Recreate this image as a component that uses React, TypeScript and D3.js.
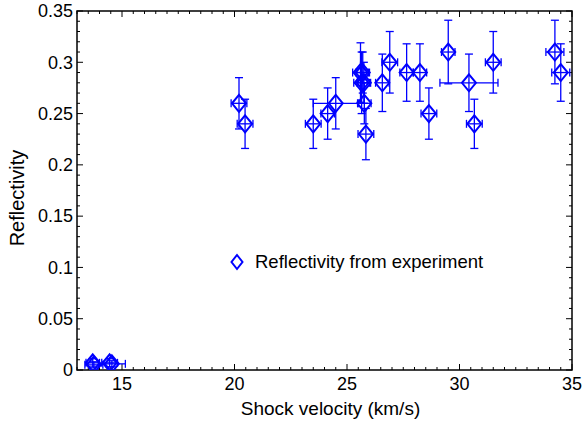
import React from "react";
import * as d3 from "d3";

const velocity = [13.7, 13.75, 14.45, 14.55, 20.2, 20.47, 23.5, 24.14, 24.5, 25.6, 25.7, 25.65, 25.75, 25.77, 25.84, 26.57, 26.9, 27.65, 28.24, 28.64, 29.5, 30.42, 30.66, 31.5, 34.24, 34.5];
const reflectivity = [0.007, 0.005, 0.007, 0.006, 0.26, 0.24, 0.24, 0.25, 0.26, 0.29, 0.29, 0.28, 0.28, 0.26, 0.23, 0.28, 0.3, 0.29, 0.29, 0.25, 0.31, 0.28, 0.24, 0.3, 0.31, 0.29];
const velocityErr = [0.3, 0.4, 0.35, 0.6, 0.35, 0.35, 0.35, 0.3, 1.0, 0.35, 0.3, 0.35, 0.3, 0.3, 0.35, 0.3, 0.35, 0.3, 0.3, 0.35, 0.3, 1.29, 0.35, 0.35, 0.4, 0.4];
const reflectivityErr = [0.004, 0.003, 0.004, 0.003, 0.025, 0.024, 0.024, 0.025, 0.025, 0.029, 0.02, 0.03, 0.02, 0.02, 0.025, 0.028, 0.03, 0.028, 0.028, 0.025, 0.031, 0.028, 0.024, 0.03, 0.031, 0.028];

const xTicks = [15, 20, 25, 30, 35];
const yTicks = [0, 0.05, 0.1, 0.15, 0.2, 0.25, 0.3, 0.35];
const xLabel = "Shock velocity (km/s)";
const yLabel = "Reflectivity";
const legendLabel = "Reflectivity from experiment";

export default function App() {
  const W = 585, H = 425;
  const left = 77, right = 572, top = 11, bottom = 370;
  const x = d3.scaleLinear().domain([13, 35]).range([left, right]);
  const y = d3.scaleLinear().domain([0, 0.35]).range([bottom, top]);
  const font = "'Liberation Sans', Arial, Helvetica, sans-serif";
  const blue = "#0000ff";

  const xMinor = d3.range(13, 35.001, 0.5);
  const yMinor = d3.range(0, 0.3501, 0.01);

  const diamond = (cx: number, cy: number, hw: number, hh: number) =>
    `M${cx},${cy - hh}L${cx + hw},${cy}L${cx},${cy + hh}L${cx - hw},${cy}Z`;

  const cap = 4;
  return (
    <svg width={W} height={H} style={{ position: "absolute", left: 0, top: 0, background: "#fff" }}>
      <rect x={0} y={0} width={W} height={H} fill="#fff" />
      <defs>
        <clipPath id="plotclip">
          <rect x={left} y={top - 12} width={right - left} height={bottom - top + 12} />
        </clipPath>
      </defs>
      {xMinor.map((v, i) => {
        const isMajor = Math.abs(v / 5 - Math.round(v / 5)) < 1e-6;
        const len = isMajor ? 6 : 3;
        return (
          <g key={"xm" + i} stroke="#000" strokeWidth={1}>
            <line x1={x(v)} x2={x(v)} y1={bottom} y2={bottom - len} />
            <line x1={x(v)} x2={x(v)} y1={top} y2={top + len} />
          </g>
        );
      })}
      {yMinor.map((v, i) => {
        const isMajor = Math.abs(v / 0.05 - Math.round(v / 0.05)) < 1e-6;
        const len = isMajor ? 6 : 3;
        return (
          <g key={"ym" + i} stroke="#000" strokeWidth={1}>
            <line x1={left} x2={left + len} y1={y(v)} y2={y(v)} />
            <line x1={right} x2={right - len} y1={y(v)} y2={y(v)} />
          </g>
        );
      })}
      <rect x={left} y={top} width={right - left} height={bottom - top} fill="none" stroke="#000" strokeWidth={1.5} />
      {xTicks.map((t) => (
        <text key={"xt" + t} x={x(t)} y={390} textAnchor="middle" fontFamily={font} fontSize={18} fill="#000">
          {t}
        </text>
      ))}
      {yTicks.map((t) => (
        <text key={"yt" + t} x={73} y={y(t)} dy="0.35em" textAnchor="end" fontFamily={font} fontSize={18} fill="#000">
          {t === 0 ? "0" : String(t)}
        </text>
      ))}
      <text x={(left + right) / 2 + 6} y={415} textAnchor="middle" fontFamily={font} fontSize={19} fill="#000">
        {xLabel}
      </text>
      <text transform={`translate(24,${198}) rotate(-90)`} textAnchor="middle" fontFamily={font} fontSize={20} fill="#000">
        {yLabel}
      </text>

      <g clipPath="url(#plotclip)">
        {velocity.map((v, i) => {
          const cx = x(v);
          const cy = y(reflectivity[i]);
          const x0 = x(v - velocityErr[i]);
          const x1 = x(v + velocityErr[i]);
          const y0 = y(reflectivity[i] - reflectivityErr[i]);
          const y1 = y(reflectivity[i] + reflectivityErr[i]);
          return (
            <g key={"p" + i} stroke={blue} fill="none">
              <g strokeWidth={1.3}>
                <line x1={x0} x2={x1} y1={cy} y2={cy} />
                <line x1={x0} x2={x0} y1={cy - cap} y2={cy + cap} />
                <line x1={x1} x2={x1} y1={cy - cap} y2={cy + cap} />
                <line x1={cx} x2={cx} y1={y0} y2={y1} />
                <line x1={cx - cap} x2={cx + cap} y1={y0} y2={y0} />
                <line x1={cx - cap} x2={cx + cap} y1={y1} y2={y1} />
              </g>
              <path d={diamond(cx, cy, 7, 8.5)} strokeWidth={2} />
            </g>
          );
        })}
      </g>

      <path d={diamond(237, 262, 5.5, 7)} stroke={blue} strokeWidth={2} fill="none" />
      <text x={255} y={262} dy="0.35em" fontFamily={font} fontSize={18.5} fill="#000">
        {legendLabel}
      </text>
    </svg>
  );
}
